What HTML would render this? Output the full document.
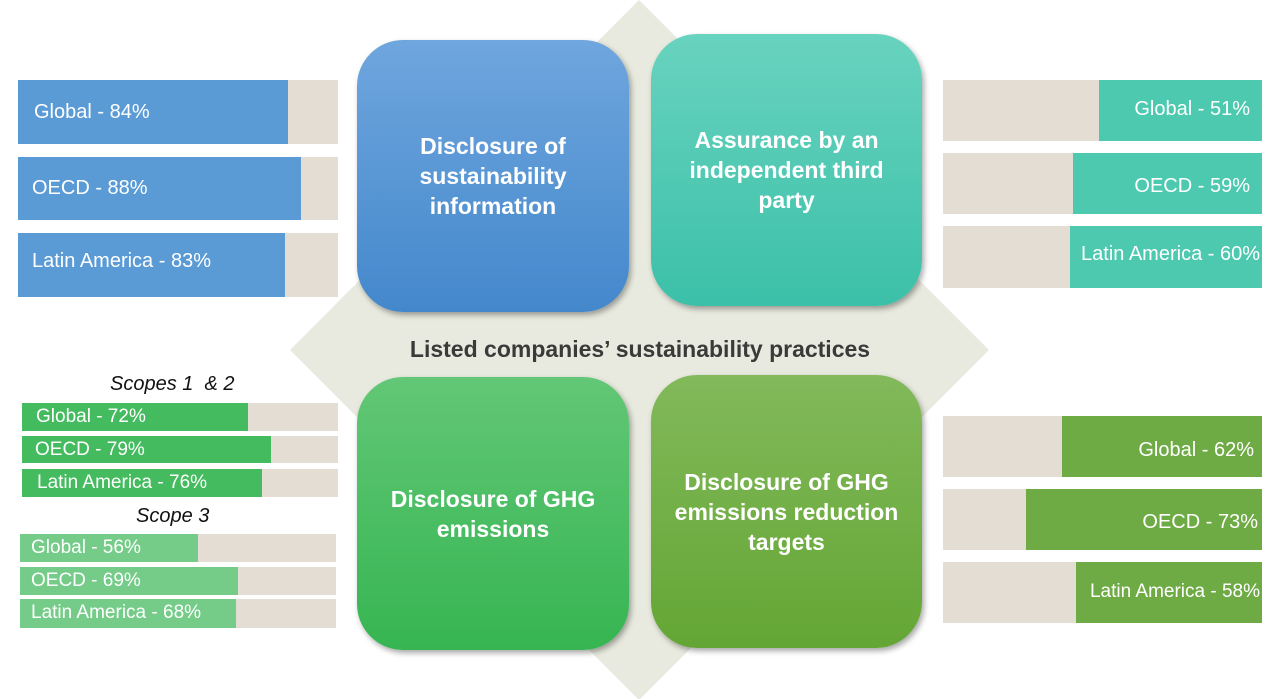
<!DOCTYPE html>
<html><head><meta charset="utf-8"><style>
body{margin:0;width:1280px;height:699px;background:#fff;position:relative;overflow:hidden;font-family:"Liberation Sans",sans-serif}
.a{position:absolute}
.bar{position:absolute;background:#e3ddd3}
.bar .f{position:absolute;left:0;top:0;bottom:0}
.bar span{position:absolute;color:#fff;white-space:nowrap}
.box{position:absolute;border-radius:46px;color:#fff;font-weight:bold;font-size:23px;line-height:30px;text-align:center;display:flex;align-items:center;justify-content:center;box-shadow:2px 3px 6px rgba(0,0,0,.35)}
.lbl{position:absolute;font-style:italic;font-size:20px;color:#111}
</style></head><body>
<svg class="a" style="left:0;top:0" width="1280" height="699"><polygon points="639,0 989,350 639,700 290,350" fill="#e8eadf"/></svg>

<div class="box" style="left:357px;top:40px;width:272px;height:272px;background:linear-gradient(#6fa6de,#4488cc)">Disclosure of<br>sustainability<br>information</div>
<div class="box" style="left:651px;top:34px;width:271px;height:272px;background:linear-gradient(#68d3bf,#3cc0a8)">Assurance by an<br>independent third<br>party</div>
<div class="box" style="left:357px;top:377px;width:272px;height:273px;background:linear-gradient(#62c776,#36b552)">Disclosure of GHG<br>emissions</div>
<div class="box" style="left:651px;top:375px;width:271px;height:273px;background:linear-gradient(#82b95a,#64a635)">Disclosure of GHG<br>emissions reduction<br>targets</div>
<div class="a" style="left:290px;top:336px;width:700px;text-align:center;font-weight:bold;font-size:23px;color:#3a3a3a">Listed companies’ sustainability practices</div>

<div class="bar" style="left:18px;top:80px;width:320px;height:64px"><div class="f" style="width:270px;background:#5b9bd5"></div><span style="left:16px;top:21px;font-size:20px">Global - 84%</span></div>
<div class="bar" style="left:18px;top:157px;width:320px;height:63px"><div class="f" style="width:283px;background:#5b9bd5"></div><span style="left:14px;top:20px;font-size:20px">OECD - 88%</span></div>
<div class="bar" style="left:18px;top:233px;width:320px;height:64px"><div class="f" style="width:267px;background:#5b9bd5"></div><span style="left:14px;top:17px;font-size:20px">Latin America - 83%</span></div>

<div class="bar" style="left:943px;top:80px;width:319px;height:61px"><div class="f" style="left:156px;right:0;width:auto;background:#4dc9b0"></div><span style="right:12px;top:18px;font-size:20px">Global - 51%</span></div>
<div class="bar" style="left:943px;top:153px;width:319px;height:61px"><div class="f" style="left:130px;right:0;width:auto;background:#4dc9b0"></div><span style="right:12px;top:22px;font-size:20px">OECD - 59%</span></div>
<div class="bar" style="left:943px;top:226px;width:319px;height:62px"><div class="f" style="left:127px;right:0;width:auto;background:#4dc9b0"></div><span style="right:2px;top:17px;font-size:20px">Latin America - 60%</span></div>

<div class="bar" style="left:943px;top:416px;width:319px;height:61px"><div class="f" style="left:119px;right:0;width:auto;background:#6fab45"></div><span style="right:8px;top:23px;font-size:20px">Global - 62%</span></div>
<div class="bar" style="left:943px;top:489px;width:319px;height:61px"><div class="f" style="left:83px;right:0;width:auto;background:#6fab45"></div><span style="right:4px;top:22px;font-size:20px">OECD - 73%</span></div>
<div class="bar" style="left:943px;top:562px;width:319px;height:61px"><div class="f" style="left:133px;right:0;width:auto;background:#6fab45"></div><span style="right:2px;top:19px;font-size:19px">Latin America - 58%</span></div>

<div class="lbl" style="left:110px;top:373px">Scopes 1&nbsp; &amp; 2</div>
<div class="bar" style="left:22px;top:403px;width:316px;height:28px"><div class="f" style="width:226px;background:#44bb5f"></div><span style="left:14px;top:3px;font-size:19px">Global - 72%</span></div>
<div class="bar" style="left:22px;top:436px;width:316px;height:27px"><div class="f" style="width:249px;background:#44bb5f"></div><span style="left:13px;top:3px;font-size:19px">OECD - 79%</span></div>
<div class="bar" style="left:22px;top:469px;width:316px;height:28px"><div class="f" style="width:240px;background:#44bb5f"></div><span style="left:15px;top:3px;font-size:19px">Latin America - 76%</span></div>
<div class="lbl" style="left:136px;top:505px">Scope 3</div>
<div class="bar" style="left:20px;top:534px;width:316px;height:28px"><div class="f" style="width:178px;background:#74cc88"></div><span style="left:11px;top:3px;font-size:19px">Global - 56%</span></div>
<div class="bar" style="left:20px;top:567px;width:316px;height:28px"><div class="f" style="width:218px;background:#74cc88"></div><span style="left:11px;top:3px;font-size:19px">OECD - 69%</span></div>
<div class="bar" style="left:20px;top:599px;width:316px;height:29px"><div class="f" style="width:216px;background:#74cc88"></div><span style="left:11px;top:3px;font-size:19px">Latin America - 68%</span></div>
</body></html>
